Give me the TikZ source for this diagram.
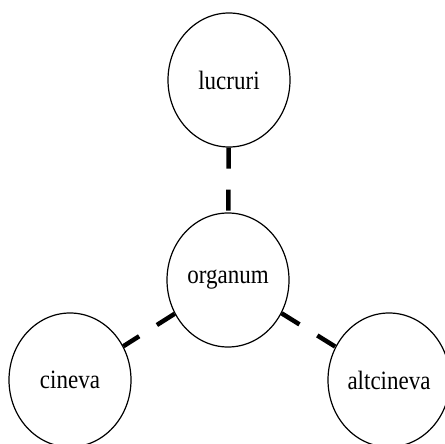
\documentclass[tikz,border=0pt]{standalone}
\usepackage{fontspec}
\setmainfont{Liberation Serif}
\usetikzlibrary{shapes.geometric}

\tikzset{term/.style={draw, ellipse, line width=1.2pt, inner sep=0pt,
                      minimum width=122pt, minimum height=134pt,
                      font=\fontsize{23}{26}\selectfont},
         link/.style={draw, line width=4.5pt, dash pattern=on 21pt off 21pt}}

\newcommand{\tall}[1]{\scalebox{1}[1.15]{#1}}

\begin{document}
\begin{tikzpicture}[x=1pt, y=-1pt]
  \useasboundingbox (0,0) rectangle (444,444);
  \node[term] (lucruri) at (229,80) {\tall{lucruri}};
  \node[term] (organum) at (228,280) {\tall{organum}};
  \node[term] (cineva) at (70,380) {\tall{cineva}};
  \node[term] (altcineva) at (389,380) {\tall{altcineva}};
  % dashed links
  \draw[link] (lucruri) -- (organum);
  \draw[link] (organum) -- (cineva);
  \draw[link] (organum) -- (altcineva);
\end{tikzpicture}
\end{document}
